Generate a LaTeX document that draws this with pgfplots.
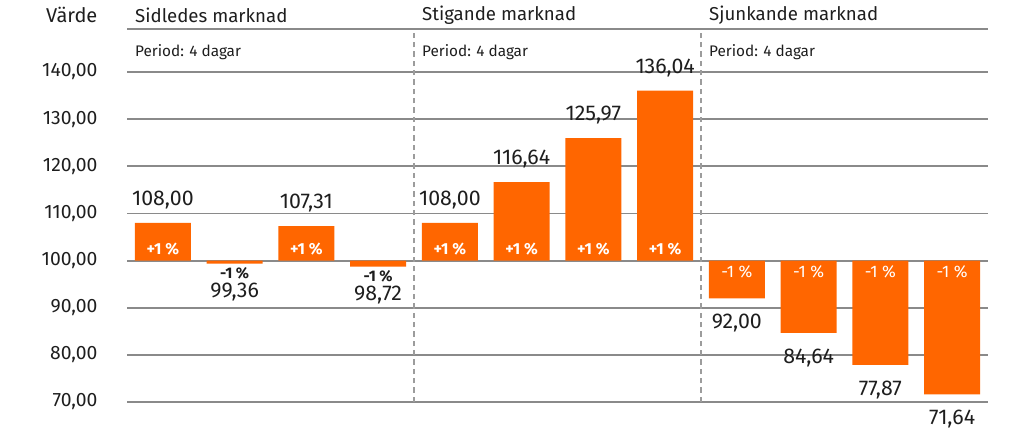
\documentclass[border=0pt]{standalone}
\usepackage{fontspec}
\setmainfont{Fira Sans}
\usepackage{pgfplots}
\pgfplotsset{compat=1.18}
\definecolor{Bar}{HTML}{FF6600}
\definecolor{Grid}{HTML}{8A8A8A}
\definecolor{Ink}{HTML}{1E1E1E}

\begin{document}
\begin{tikzpicture}[font=\fontsize{14.5}{17}\selectfont, text=Ink]
\begin{axis}[
  scale only axis, width=645.75pt, height=279.75pt,
  xmin=-0.5, xmax=11.5, ymin=-30, ymax=49.13,
  y filter/.expression={y-100},
  clip=false,
  axis line style={draw=none}, major tick length=0pt,
  xtick=\empty,
  ytick={-30,-20,...,40},
  yticklabels={{70,00},{80,00},{90,00},{100,00},{110,00},{120,00},{130,00},{140,00}},
  yticklabel style={anchor=east, inner sep=0pt, xshift=-22pt},
  ymajorgrids, grid style={draw=Grid, line width=1.4pt},
  extra y ticks={49.13}, extra y tick labels={}, extra y tick style={grid=major},
  extra x ticks={3.5,7.5}, extra x tick labels={},
  extra x tick style={grid=major, major grid style={draw=Grid!85, line width=1.1pt, dash pattern=on 4pt off 3pt}},
]
% bars start at 100
\addplot[ybar, bar width=42pt, bar shift=0pt, fill=Bar, draw=none] table {
x y
0 108
1 99.36
2 107.31
3 98.72
4 108
5 116.64
6 125.97
7 136.04
8 92
9 84.64
10 77.87
11 71.64
};
% values above rising bars
\addplot[draw=none, mark=none, nodes near coords, point meta=explicit symbolic,
  every node near coord/.append style={anchor=center, yshift=17.25pt, font=\fontsize{16}{19}\selectfont}] table[meta=lab] {
x y lab
0 108 108,00
2 107.31 107,31
4 108 108,00
5 116.64 116,64
6 125.97 125,97
7 136.04 136,04
};
% values below falling bars, sideways market
\addplot[draw=none, mark=none, nodes near coords, point meta=explicit symbolic,
  every node near coord/.append style={anchor=center, yshift=-21pt, font=\fontsize{16}{19}\selectfont}] table[meta=lab] {
x y lab
1 99.36 99,36
3 98.72 98,72
};
% values below falling bars, falling market
\addplot[draw=none, mark=none, nodes near coords, point meta=explicit symbolic,
  every node near coord/.append style={anchor=center, yshift=-18.75pt, font=\fontsize{16}{19}\selectfont}] table[meta=lab] {
x y lab
8 92 92,00
9 84.64 84,64
10 77.87 77,87
11 71.64 71,64
};
% percent tags
\addplot[draw=none, mark=none, nodes near coords={\bfseries +1 \%},
  every node near coord/.append style={anchor=center, yshift=9pt, text=white, font=\fontsize{12}{14}\selectfont}] table {
x y
0 100
2 100
4 100
5 100
6 100
7 100
};
\addplot[draw=none, mark=none, nodes near coords={\bfseries -1 \%},
  every node near coord/.append style={anchor=center, yshift=-7.5pt, text=Ink, font=\fontsize{11.5}{13}\selectfont}] table {
x y
1 99.36
3 98.72
};
\addplot[draw=none, mark=none, nodes near coords={-1 \%},
  every node near coord/.append style={anchor=center, yshift=-8.25pt, text=white, font=\fontsize{12.5}{14}\selectfont}] table {
x y
8 100
9 100
10 100
11 100
};
% headings
\node[anchor=west, inner sep=0pt, yshift=10.5pt, font=\fontsize{14}{17}\selectfont] at (axis cs:-0.39,49.13) {Sidledes marknad};
\node[anchor=west, inner sep=0pt, yshift=10.5pt, font=\fontsize{14}{17}\selectfont] at (axis cs:3.61,49.13) {Stigande marknad};
\node[anchor=west, inner sep=0pt, yshift=10.5pt, font=\fontsize{14}{17}\selectfont] at (axis cs:7.61,49.13) {Sjunkande marknad};
\node[anchor=west, inner sep=0pt, yshift=-17pt, font=\fontsize{11.5}{13}\selectfont] at (axis cs:-0.39,49.13) {Period: 4 dagar};
\node[anchor=west, inner sep=0pt, yshift=-17pt, font=\fontsize{11.5}{13}\selectfont] at (axis cs:3.61,49.13) {Period: 4 dagar};
\node[anchor=west, inner sep=0pt, yshift=-17pt, font=\fontsize{11.5}{13}\selectfont] at (axis cs:7.61,49.13) {Period: 4 dagar};
\node[anchor=east, inner sep=0pt, xshift=-22pt, yshift=10.5pt, font=\fontsize{15}{18}\selectfont] at (rel axis cs:0,1) {Värde};
\end{axis}
\pgfresetboundingbox
\path[use as bounding box] ([xshift=-95.25pt,yshift=-23.25pt]current axis.south west) rectangle ([xshift=672pt,yshift=21.75pt]current axis.north west);
\end{tikzpicture}
\end{document}
